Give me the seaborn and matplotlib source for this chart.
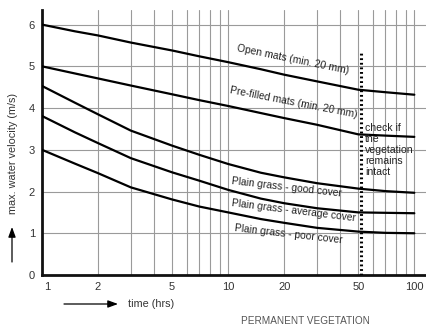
import numpy as np
import pandas as pd
import matplotlib
matplotlib.use("Agg")
import matplotlib.pyplot as plt
import matplotlib.ticker as mticker
import matplotlib.transforms as mtrans
import seaborn as sns

# ---- data ----
time_hrs = [1, 1.5, 2, 3, 5, 7, 10, 15, 20, 30, 50, 70, 100]
open_mats = [6.00, 5.84, 5.74, 5.57, 5.38, 5.24, 5.10, 4.93, 4.80, 4.64, 4.44, 4.38, 4.32]
prefilled_mats = [5.00, 4.83, 4.71, 4.54, 4.33, 4.19, 4.05, 3.88, 3.76, 3.60, 3.37, 3.34, 3.31]
grass_good = [4.53, 4.13, 3.85, 3.46, 3.10, 2.88, 2.66, 2.45, 2.34, 2.20, 2.07, 2.01, 1.97]
grass_average = [3.81, 3.42, 3.16, 2.80, 2.46, 2.26, 2.04, 1.83, 1.72, 1.60, 1.50, 1.49, 1.48]
grass_poor = [3.00, 2.67, 2.44, 2.10, 1.81, 1.64, 1.50, 1.34, 1.25, 1.13, 1.04, 1.01, 1.00]

series_names = [
    "Open mats (min. 20 mm)",
    "Pre-filled mats (min. 20 mm)",
    "Plain grass - good cover",
    "Plain grass - average cover",
    "Plain grass - poor cover",
]
x_tick_values = [1, 2, 5, 10, 20, 50, 100]
x_tick_labels = ["1", "2", "5", "10", "20", "50", "100"]
y_tick_values = [0, 1, 2, 3, 4, 5, 6]
check_time = 52
check_top = 5.35

sns.set_style("white")
plt.rcParams["font.family"] = ["Liberation Sans", "DejaVu Sans"]

fig = plt.figure(figsize=(4.27, 3.27), dpi=100)
ax = fig.add_axes([42 / 427, 52 / 327, 1 - 42 / 427, (275 - 10) / 327])

df = pd.DataFrame({
    "time": time_hrs * 5,
    "velocity": open_mats + prefilled_mats + grass_good + grass_average + grass_poor,
    "series": sum([[n] * len(time_hrs) for n in series_names], []),
})
sns.lineplot(data=df, x="time", y="velocity", hue="series",
             palette=["black"] * 5, linewidth=1.6, legend=False, ax=ax,
             zorder=3)

ax.set_xscale("log")
ax.set_xlim(1, 117)
ax.set_ylim(0, 6.35)

ax.xaxis.set_major_locator(mticker.FixedLocator(x_tick_values))
ax.xaxis.set_major_formatter(mticker.FixedFormatter(x_tick_labels))
ax.xaxis.set_minor_locator(mticker.LogLocator(base=10, subs=np.arange(1, 10)))
ax.xaxis.set_minor_formatter(mticker.NullFormatter())
ax.set_yticks(y_tick_values)
ax.tick_params(axis="both", which="both", length=0, labelsize=8, labelcolor="#333333")
ax.tick_params(axis="x", pad=5)
ax.tick_params(axis="y", pad=5)
ax.grid(True, axis="x", which="both", color="#9a9a9a", linewidth=0.8)
ax.grid(True, axis="y", which="major", color="#9a9a9a", linewidth=0.8)
ax.set_axisbelow(True)

for s in ["top", "right"]:
    ax.spines[s].set_visible(False)
for s in ["left", "bottom"]:
    ax.spines[s].set_color("#111111")
    ax.spines[s].set_linewidth(2.0)

for lbl in ax.get_xticklabels():
    if lbl.get_text() == "1":
        lbl.set_transform(lbl.get_transform() + mtrans.ScaledTranslation(5 / 100, 0, fig.dpi_scale_trans))

ax.set_xlabel("")
ax.set_ylabel("")

# dotted check line
ax.plot([check_time, check_time], [0, check_top], color="black",
        linewidth=2.2, linestyle=(0, (0.6, 0.9)), zorder=4)

# curve labels
lab_kw = dict(fontsize=7.4, color="#222222", ha="center", va="center",
              rotation_mode="anchor")
ax.text(22.3, 5.17, series_names[0], rotation=-11.5, **lab_kw)
ax.text(22.5, 4.14, series_names[1], rotation=-11, **lab_kw)
ax.text(20.7, 2.09, series_names[2], rotation=-6.5, **lab_kw)
ax.text(22.6, 1.55, series_names[3], rotation=-7, **lab_kw)
ax.text(21.0, 0.97, series_names[4], rotation=-6.5, **lab_kw)
ax.text(54.5, 3.64, "check if\nthe\nvegetation\nremains\nintact",
        fontsize=7.6, color="#222222", ha="left", va="top", linespacing=1.13)

# axis titles with arrows
fig.text(13 / 427, 1 - 153 / 327, "max. water velocity (m/s)", rotation=90,
         ha="center", va="center", fontsize=7.8, color="#333333")
fig.text(128 / 427, 1 - 304 / 327, "time (hrs)", ha="left", va="center",
         fontsize=7.8, color="#333333")
fig.text(305 / 427, 1 - 321 / 327, "PERMANENT VEGETATION", ha="center",
         va="center", fontsize=7.2, color="#555555")

arrow_kw = dict(arrowstyle="-|>,head_length=0.6,head_width=0.22",
                color="black", lw=0.9, shrinkA=0, shrinkB=0)
fig.add_artist(matplotlib.patches.FancyArrowPatch(
    (12 / 427, 1 - 262 / 327), (12 / 427, 1 - 227 / 327),
    transform=fig.transFigure, mutation_scale=10, **arrow_kw))
fig.add_artist(matplotlib.patches.FancyArrowPatch(
    (64 / 427, 1 - 304 / 327), (118 / 427, 1 - 304 / 327),
    transform=fig.transFigure, mutation_scale=10, **arrow_kw))

fig.savefig("out.png", dpi=100)
